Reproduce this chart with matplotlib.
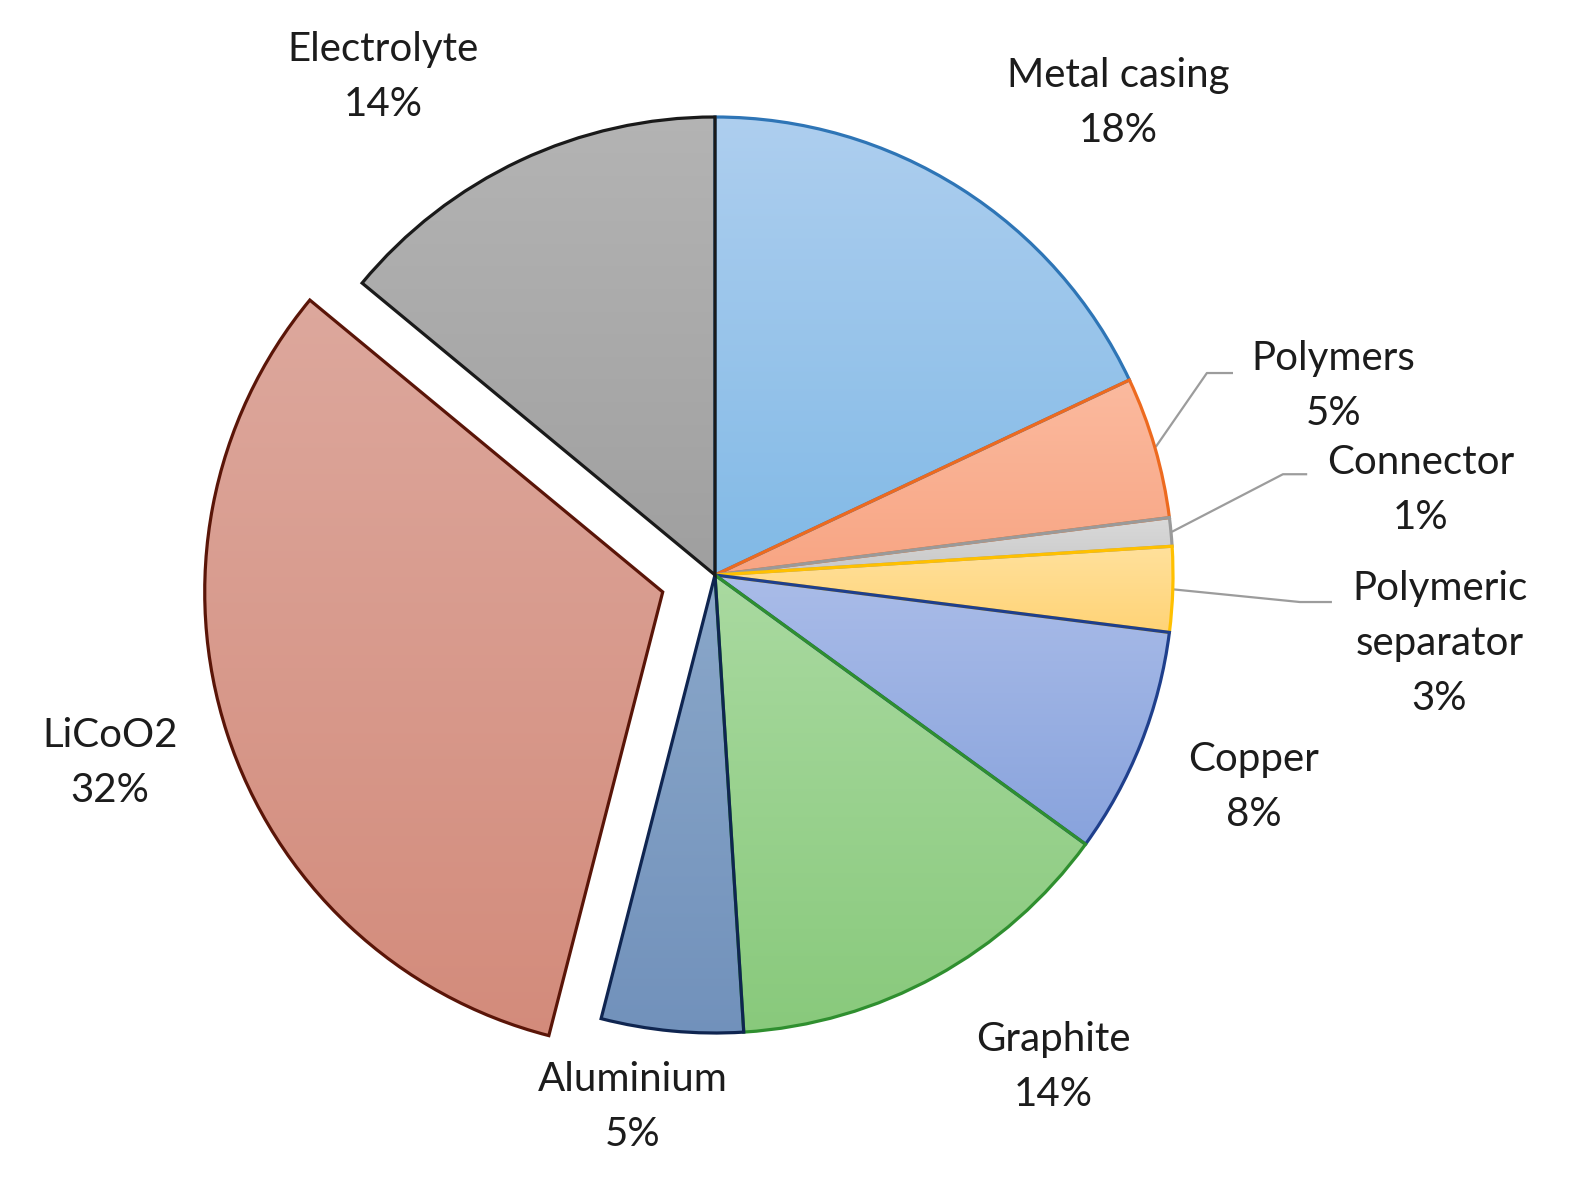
import numpy as np
import matplotlib
matplotlib.use("Agg")
import matplotlib.pyplot as plt
from matplotlib.patches import PathPatch
from matplotlib.colors import LinearSegmentedColormap

# slice data, clockwise from 12 o'clock
components = ["Metal casing", "Polymers", "Connector", "Polymeric\nseparator",
              "Copper", "Graphite", "Aluminium", "LiCoO2", "Electrolyte"]
shares = [18, 5, 1, 3, 8, 14, 5, 32, 14]

# gradient fills (top, bottom) and outline colours
top_colors = ["#afcfef", "#fbbba0", "#dcdcdc", "#ffe2a0", "#abbde9",
              "#aadaa1", "#8ba8ca", "#dda89d", "#b4b4b4"]
bottom_colors = ["#80b9e6", "#f8a482", "#c6c6c6", "#ffd272", "#87a2dc",
                 "#88c97b", "#7191bb", "#d38b7b", "#9f9f9f"]
edge_colors = ["#2e75b6", "#ed6a1f", "#9a9a9a", "#ffc000", "#1f3f8c",
               "#2f8f2f", "#0f2550", "#5a1508", "#1a1a1a"]
explode = [0, 0, 0, 0, 0, 0, 0, 0.12, 0]

# label layout (data units, pie radius = 1)
label_pos = {
    "Metal casing": (0.880, 1.030),
    "Polymers": (1.350, 0.412),
    "Connector": (1.540, 0.186),
    "Polymeric\nseparator": (1.582, -0.150),
    "Copper": (1.176, -0.463),
    "Graphite": (0.738, -1.074),
    "Aluminium": (-0.179, -1.162),
    "LiCoO2": (-1.321, -0.410),
    "Electrolyte": (-0.725, 1.087),
}
# leader elbows for the thin slices: (elbow, end of horizontal)
leaders = {
    "Polymers": ((1.074, 0.441), (1.131, 0.441)),
    "Connector": ((1.240, 0.220), (1.293, 0.220)),
    "Polymeric\nseparator": ((1.277, -0.059), (1.347, -0.059)),
}

W, H = 1570, 1188
cx, cy, R = 715, 575, 458

fig = plt.figure(figsize=(W / 100, H / 100), dpi=100)
ax = fig.add_axes([0, 0, 1, 1])

wedges, _ = ax.pie(shares, startangle=90, counterclock=False, explode=explode,
                   radius=1.0, wedgeprops=dict(linewidth=0, edgecolor="none"))

grad = np.linspace(0, 1, 256).reshape(-1, 1)
for i, w in enumerate(wedges):
    w.set_facecolor(bottom_colors[i])
    cmap = LinearSegmentedColormap.from_list(f"g{i}", [top_colors[i], bottom_colors[i]])
    bb = w.get_path().get_extents()
    ext = [bb.x0 - 0.02, bb.x1 + 0.02, bb.y0 - 0.02, bb.y1 + 0.02]
    im = ax.imshow(grad, cmap=cmap, extent=ext, origin="upper", aspect="auto",
                   interpolation="bilinear", zorder=2)
    im.set_clip_path(w)
    ax.add_patch(PathPatch(w.get_path(), transform=w.get_transform(), fill=False,
                           edgecolor=edge_colors[i], linewidth=2.3,
                           joinstyle="miter", zorder=3))

# leader lines from slice edge midpoints
cum = np.cumsum([0] + shares[:-1])
total = float(sum(shares))
for i, name in enumerate(components):
    if name not in leaders:
        continue
    mid = np.deg2rad(90 - 360 * (cum[i] + shares[i] / 2) / total)
    start = (np.cos(mid) * 1.002, np.sin(mid) * 1.002)
    elbow, end = leaders[name]
    ax.plot([start[0], elbow[0], end[0]], [start[1], elbow[1], end[1]],
            color="#9c9c9c", linewidth=1.6, zorder=1, solid_capstyle="butt")

for name, pct in zip(components, shares):
    x, y = label_pos[name]
    ax.text(x, y, f"{name}\n{pct}%", ha="center", va="center", fontsize=29,
            family="Lato", color="#1c1c1c", linespacing=1.6, zorder=4)

ax.set_xlim(-cx / R, (W - cx) / R)
ax.set_ylim(-(H - cy) / R, cy / R)
ax.set_aspect("auto")
ax.axis("off")

fig.savefig("out.png", dpi=100, facecolor="white")
